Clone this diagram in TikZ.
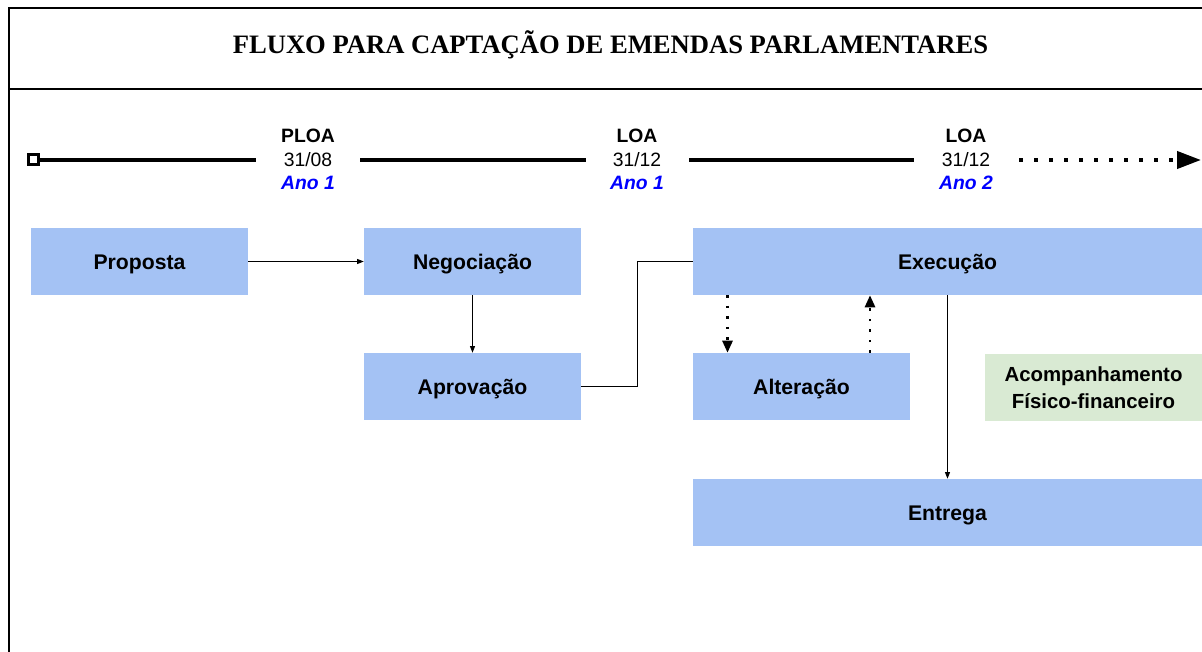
\documentclass[tikz,border=0pt]{standalone}
\usepackage{fontspec}
\setmainfont{Liberation Sans}
\newfontfamily\titlefont{Liberation Serif}
\usetikzlibrary{arrows.meta}
\definecolor{boxblue}{HTML}{A4C2F4}
\definecolor{boxgreen}{HTML}{D9EAD3}
\definecolor{anoblue}{HTML}{0000FF}
\begin{document}
\begin{tikzpicture}[x=0.75pt,y=-0.75pt,
  box/.style={fill=boxblue, inner sep=0pt, minimum width=162.75pt, minimum height=50.25pt,
    text height=11.4pt, text depth=0pt,
    font=\fontsize{15.9}{19}\selectfont\bfseries},
  widebox/.style={box, minimum width=381.75pt},
  greenbox/.style={fill=boxgreen, inner sep=0pt, minimum width=162.75pt, minimum height=50.25pt,
    align=center, font=\fontsize{15.3}{20.25}\selectfont\bfseries},
  frameline/.style={line width=1.5pt},
  tline/.style={line width=3pt},
  tdots/.style={line width=3pt, dash pattern=on 3pt off 8.25pt, -{Triangle[length=18pt,width=12.75pt]}},
  thinarrow/.style={line width=0.75pt, -{Triangle[length=5pt,width=3.75pt]}},
  thinline/.style={line width=0.75pt},
  dotarrow/.style={line width=1.9pt, dash pattern=on 1.9pt off 6pt, -{Triangle[length=9pt,width=7.5pt]}},
  lblbold/.style={anchor=base, font=\fontsize{14.5}{17}\selectfont\bfseries},
  lbldate/.style={anchor=base, font=\fontsize{14.5}{17}\selectfont},
  lblano/.style={anchor=base, text=anoblue, font=\fontsize{14.5}{17}\selectfont\bfseries\itshape}]
\useasboundingbox (0,0) rectangle (1202,652);
\fill[white] (0,0) rectangle (1202,652);
% frame
\coordinate (ftl) at (9,8);
\coordinate (ftr) at (1203,8);
\coordinate (fbl) at (9,653);
\coordinate (fml) at (9,89);
\coordinate (fmr) at (1203,89);
\draw[frameline] (ftr) -- (ftl) -- (fbl);
\draw[frameline] (fml) -- (fmr);
\node (title) at (610.5,45) {\titlefont\bfseries\fontsize{19.95}{24}\selectfont FLUXO PARA CAPTAÇÃO DE EMENDAS PARLAMENTARES};
% timeline
\node[draw=black, line width=2.25pt, fill=white, minimum size=7.5pt, inner sep=0pt] (start) at (33,160) {};
\coordinate (s1e) at (256,160);
\coordinate (s2a) at (360,160);
\coordinate (s2e) at (586,160);
\coordinate (s3a) at (689,160);
\coordinate (s3e) at (914,160);
\coordinate (s4a) at (1019,160);
\coordinate (s4e) at (1201,160);
\draw[tline] (start.east) -- (s1e);
\draw[tline] (s2a) -- (s2e);
\draw[tline] (s3a) -- (s3e);
\draw[tdots] (s4a) -- (s4e);
\node[lblbold] (ploa) at (308,142.7) {PLOA};
\node[lbldate] (d1) at (308,166.7) {31/08};
\node[lblano] (a1) at (308,190) {Ano 1};
\node[lblbold] (loa1) at (637,142.7) {LOA};
\node[lbldate] (d2) at (637,166.7) {31/12};
\node[lblano] (a2) at (637,190) {Ano 1};
\node[lblbold] (loa2) at (966,142.7) {LOA};
\node[lbldate] (d3) at (966,166.7) {31/12};
\node[lblano] (a3) at (966,190) {Ano 2};
% boxes
\node[box] (prop) at (139.5,261.5) {Proposta};
\node[box] (neg) at (472.5,261.5) {Negociação};
\node[box] (apr) at (472.5,386.5) {Aprovação};
\node[widebox] (exe) at (947.5,261.5) {Execução};
\node[box] (alt) at (801.5,386.5) {Alteração};
\node[greenbox] (acomp) at (1093.5,387.5) {Acompanhamento\\Físico-financeiro};
\node[widebox] (ent) at (947.5,512.5) {Entrega};
% connectors
\draw[thinarrow] (prop.east) -- (neg.west);
\draw[thinarrow] (neg.south) -- (apr.north);
\coordinate (bend) at (637,386.5);
\draw[thinline] (apr.east) -- (bend) |- (exe.west);
\coordinate (xa) at (727.5,0);
\coordinate (xb) at (870,0);
\draw[dotarrow] (exe.south -| xa) -- (alt.north -| xa);
\draw[dotarrow] (alt.north -| xb) -- (exe.south -| xb);
\draw[thinarrow] (exe.south) -- (ent.north);
\end{tikzpicture}
\end{document}
